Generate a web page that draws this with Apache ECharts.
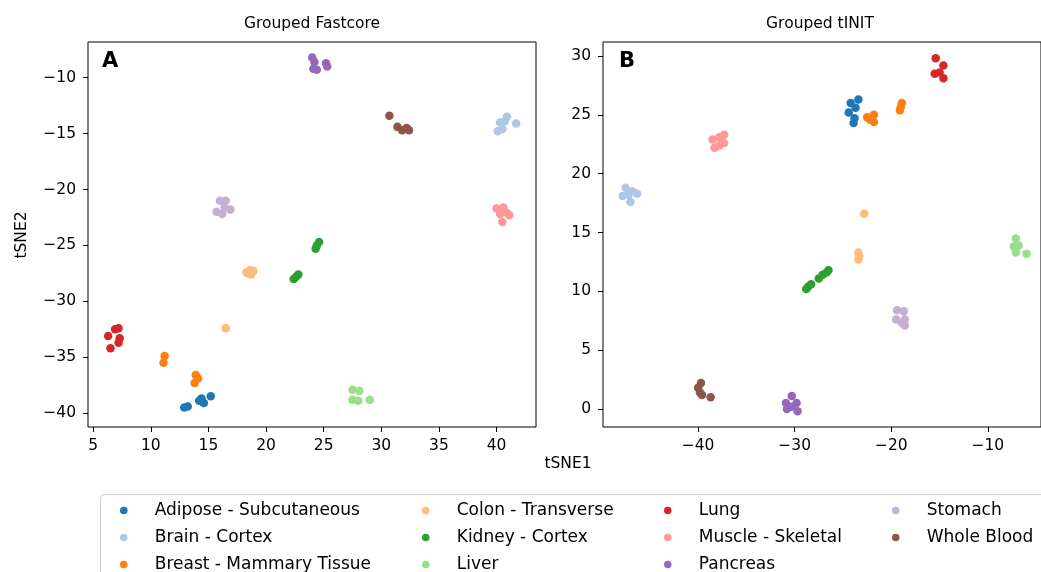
<!DOCTYPE html>
<html>
<head>
<meta charset="utf-8">
<script src="https://cdn.jsdelivr.net/npm/echarts@6/dist/echarts.min.js"></script>
<style>html,body{margin:0;padding:0;background:#fff}#c{width:1041px;height:572px}</style>
</head>
<body>
<div id="c"></div>
<script>
const categories = ['Adipose - Subcutaneous','Brain - Cortex','Breast - Mammary Tissue','Colon - Transverse','Kidney - Cortex','Liver','Lung','Muscle - Skeletal','Pancreas','Stomach','Whole Blood'];
const colors = ['#1f77b4','#aec7e8','#ff7f0e','#ffbb78','#2ca02c','#98df8a','#d62728','#ff9896','#9467bd','#c5b0d5','#8c564b'];

// Panel A: Grouped Fastcore (tSNE1, tSNE2)
const fcAdipose  = [[12.9,-39.5],[13.2,-39.4],[14.2,-38.9],[14.4,-38.7],[14.6,-39.1],[14.5,-39.0],[15.2,-38.5]];
const fcBrain    = [[40.9,-13.5],[41.7,-14.1],[40.3,-14.0],[40.5,-14.6],[40.1,-14.8],[40.7,-13.9]];
const fcBreast   = [[11.2,-34.9],[11.1,-35.5],[13.9,-36.6],[14.1,-36.9],[13.8,-37.3]];
const fcColon    = [[18.3,-27.4],[18.6,-27.2],[18.9,-27.3],[18.7,-27.6],[18.4,-27.5],[16.5,-32.4]];
const fcKidney   = [[22.4,-28.0],[22.6,-27.8],[22.8,-27.6],[24.3,-25.3],[24.4,-25.0],[24.6,-24.7]];
const fcLiver    = [[27.5,-37.9],[28.1,-38.0],[27.5,-38.8],[28.0,-38.9],[29.0,-38.8]];
const fcLung     = [[6.3,-33.1],[6.9,-32.5],[7.2,-32.4],[7.3,-33.3],[7.2,-33.7],[6.5,-34.2]];
const fcMuscle   = [[40.0,-21.7],[40.6,-21.6],[41.1,-22.3],[40.5,-22.9],[40.3,-22.2],[40.9,-22.1]];
const fcPancreas = [[24.0,-8.2],[24.2,-8.6],[24.1,-9.2],[24.4,-9.3],[25.2,-8.7],[25.3,-9.0]];
const fcStomach  = [[16.0,-21.0],[16.5,-21.0],[16.9,-21.8],[15.7,-22.0],[16.2,-22.2],[16.4,-21.6]];
const fcBlood    = [[30.7,-13.4],[31.4,-14.4],[31.8,-14.7],[32.2,-14.5],[32.4,-14.7]];

// Panel B: Grouped tINIT
const tiAdipose  = [[-24.2,26.0],[-23.4,26.3],[-23.7,25.6],[-24.4,25.2],[-23.8,24.7],[-23.9,24.3]];
const tiBrain    = [[-47.5,18.8],[-46.8,18.5],[-46.3,18.3],[-47.8,18.1],[-47.0,17.6],[-47.2,18.2]];
const tiBreast   = [[-22.5,24.8],[-21.8,25.0],[-21.8,24.4],[-22.2,24.6],[-18.9,26.0],[-19.0,25.7],[-19.1,25.4]];
const tiColon    = [[-22.8,16.6],[-23.4,13.3],[-23.3,13.0],[-23.4,12.7]];
const tiKidney   = [[-28.8,10.2],[-28.6,10.4],[-28.3,10.6],[-27.5,11.1],[-27.1,11.4],[-26.7,11.6],[-26.5,11.8]];
const tiLiver    = [[-7.1,14.5],[-7.3,13.8],[-6.8,13.9],[-7.1,13.3],[-6.0,13.2]];
const tiLung     = [[-15.4,29.8],[-14.6,29.2],[-15.5,28.5],[-15.0,28.6],[-14.6,28.1]];
const tiMuscle   = [[-38.5,22.9],[-37.8,23.1],[-37.3,23.3],[-38.3,22.2],[-37.8,22.4],[-37.3,22.6]];
const tiPancreas = [[-30.3,1.1],[-30.9,0.5],[-29.8,0.5],[-30.8,0.0],[-30.3,0.2],[-29.7,-0.2]];
const tiStomach  = [[-19.4,8.4],[-18.7,8.3],[-18.6,7.6],[-19.5,7.6],[-18.9,7.3],[-18.6,7.1]];
const tiBlood    = [[-39.7,2.2],[-40.0,1.8],[-39.8,1.4],[-39.6,1.2],[-38.7,1.0]];

const fcTicksX = [5,10,15,20,25,30,35,40];
const fcTicksY = [-40,-35,-30,-25,-20,-15,-10];
const tiTicksX = [-40,-30,-20,-10];
const tiTicksY = [0,5,10,15,20,25,30];

const fcData = [fcAdipose,fcBrain,fcBreast,fcColon,fcKidney,fcLiver,fcLung,fcMuscle,fcPancreas,fcStomach,fcBlood];
const tiData = [tiAdipose,tiBrain,tiBreast,tiColon,tiKidney,tiLiver,tiLung,tiMuscle,tiPancreas,tiStomach,tiBlood];

const FONT = 'DejaVu Sans';
const minus = v => String(v).replace('-', '\u2212');

function axis(min, max, ticks, isY) {
  return {
    type: 'value', min: min, max: max, scale: true,
    axisLine: { show: false, onZero: false },
    splitLine: { show: false },
    axisTick: { show: true, length: 5, lineStyle: { color: '#000', width: 1 }, customValues: ticks },
    axisLabel: { customValues: ticks, formatter: minus, color: '#000', fontFamily: FONT, fontSize: 15.5, margin: isY ? 12 : 11 }
  };
}

const series = [];
categories.forEach((name, i) => {
  series.push({ name: name, type: 'scatter', xAxisIndex: 0, yAxisIndex: 0, data: fcData[i], symbolSize: 8.5, itemStyle: { color: colors[i], opacity: 1 }, emphasis: { disabled: true } });
  series.push({ name: name, type: 'scatter', xAxisIndex: 1, yAxisIndex: 1, data: tiData[i], symbolSize: 8.5, itemStyle: { color: colors[i], opacity: 1 }, emphasis: { disabled: true } });
});

const legendCols = [categories.slice(0,3), categories.slice(3,6), categories.slice(6,9), categories.slice(9,11)];
const legendLefts = [120, 422, 664, 892];
const legends = legendCols.map((d, k) => ({
  type: 'plain', data: d, orient: 'vertical', left: legendLefts[k], top: 502, height: 90, padding: 0,
  itemWidth: 52, itemHeight: 7.5, itemGap: 10, icon: 'circle', selectedMode: false,
  textStyle: { fontFamily: FONT, fontSize: 17, color: '#000', lineHeight: 16 }
}));

const chart = echarts.init(document.getElementById('c'), null, { renderer: 'canvas' });
chart.setOption({
  animation: false,
  backgroundColor: '#fff',
  grid: [
    { left: 88, top: 42, width: 448, height: 385, show: true, borderColor: '#000', borderWidth: 1, containLabel: false },
    { left: 603, top: 42, width: 441, height: 385, show: true, borderColor: '#000', borderWidth: 1, containLabel: false }
  ],
  xAxis: [
    Object.assign(axis(4.55, 43.42, fcTicksX, false), { gridIndex: 0 }),
    Object.assign(axis(-49.84, -4.5, tiTicksX, false), { gridIndex: 1 })
  ],
  yAxis: [
    Object.assign(axis(-41.24, -6.81, fcTicksY, true), { gridIndex: 0 }),
    Object.assign(axis(-1.53, 31.19, tiTicksY, true), { gridIndex: 1 })
  ],
  legend: legends,
  series: series,
  graphic: [
    { type: 'text', style: { text: 'Grouped Fastcore', x: 312, y: 24, textAlign: 'center', textVerticalAlign: 'middle', font: '15.5px "DejaVu Sans"', fill: '#000' } },
    { type: 'text', style: { text: 'Grouped tINIT', x: 820, y: 24, textAlign: 'center', textVerticalAlign: 'middle', font: '15.5px "DejaVu Sans"', fill: '#000' } },
    { type: 'text', z: 10, style: { text: 'A', x: 102, y: 62, textAlign: 'left', textVerticalAlign: 'middle', font: 'bold 21px "DejaVu Sans"', fill: '#000' } },
    { type: 'text', z: 10, style: { text: 'B', x: 619, y: 62, textAlign: 'left', textVerticalAlign: 'middle', font: 'bold 21px "DejaVu Sans"', fill: '#000' } },
    { type: 'text', style: { text: 'tSNE1', x: 568, y: 464, textAlign: 'center', textVerticalAlign: 'middle', font: '15.5px "DejaVu Sans"', fill: '#000' } },
    { type: 'text', x: 22, y: 235, rotation: Math.PI / 2, style: { text: 'tSNE2', x: 0, y: 0, textAlign: 'center', textVerticalAlign: 'middle', font: '15.5px "DejaVu Sans"', fill: '#000' } },
    { type: 'rect', z: -1, shape: { x: 100.5, y: 494.5, width: 960, height: 100, r: 4 }, style: { fill: '#fff', stroke: '#d0d0d0', lineWidth: 1 } }
  ]
});
</script>
</body>
</html>
